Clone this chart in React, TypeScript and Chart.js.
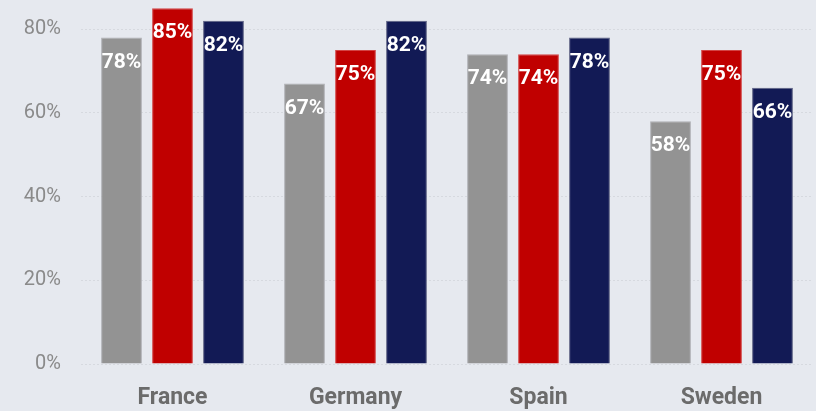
import React, { useEffect, useRef } from 'react';
import { Chart, registerables, Plugin } from 'chart.js';

Chart.register(...registerables);

const countries = ['France', 'Germany', 'Spain', 'Sweden'];
const seriesGrey = [78, 67, 74, 58];
const seriesRed = [85, 75, 74, 75];
const seriesNavy = [82, 82, 78, 66];
const yTicks = [0, 20, 40, 60, 80];

const FONT = 'Roboto, "DejaVu Sans", sans-serif';

// white value labels drawn just under the top of each bar
const valueLabels: Plugin<'bar'> = {
  id: 'valueLabels',
  afterDatasetsDraw(chart) {
    const ctx = chart.ctx;
    ctx.save();
    ctx.fillStyle = '#ffffff';
    ctx.font = `bold 21px ${FONT}`;
    ctx.textAlign = 'center';
    ctx.textBaseline = 'middle';
    chart.data.datasets.forEach((ds, i) => {
      const meta = chart.getDatasetMeta(i);
      meta.data.forEach((bar: any, j) => {
        ctx.fillText(`${ds.data[j]}%`, bar.x, bar.y + 25);
      });
    });
    ctx.restore();
  },
};

const App: React.FC = () => {
  const chartRef = useRef<HTMLCanvasElement | null>(null);
  const chartInstance = useRef<Chart | null>(null);

  useEffect(() => {
    if (!chartRef.current) return;
    if (chartInstance.current) chartInstance.current.destroy();

    const ctx = chartRef.current.getContext('2d');
    if (!ctx) return;

    chartInstance.current = new Chart(ctx, {
      type: 'bar',
      data: {
        labels: countries,
        datasets: [
          {
            label: 'Grey',
            data: seriesGrey,
            backgroundColor: '#939393',
            borderColor: '#aeafb4',
            borderWidth: 1,
          },
          {
            label: 'Red',
            data: seriesRed,
            backgroundColor: '#c00000',
            borderColor: '#d34545',
            borderWidth: 1,
          },
          {
            label: 'Navy',
            data: seriesNavy,
            backgroundColor: '#121a55',
            borderColor: '#5b6082',
            borderWidth: 1,
          },
        ],
      },
      options: {
        animation: false,
        responsive: false,
        datasets: {
          bar: {
            categoryPercentage: 0.836,
            barPercentage: 0.8,
          },
        },
        layout: {
          padding: { top: 4, right: 3, bottom: 0, left: 0 },
        },
        plugins: {
          legend: { display: false },
          tooltip: { enabled: false },
        },
        scales: {
          x: {
            grid: { display: false, drawTicks: false },
            border: { display: false },
            afterFit: (scale) => {
              scale.height = 47;
            },
            ticks: {
              padding: 20,
              color: '#6b6b6b',
              font: { family: FONT, size: 23, weight: 'bold' },
            },
          },
          y: {
            min: 0,
            max: 86,
            afterBuildTicks: (axis) => {
              axis.ticks = yTicks.map((v) => ({ value: v }));
            },
            afterFit: (scale) => {
              scale.width = 81;
              scale.paddingTop = 0;
              scale.paddingBottom = 0;
            },
            grid: {
              color: '#d6d9df',
              lineWidth: 1,
              drawTicks: false,
            },
            border: { display: false, dash: [2, 2] },
            ticks: {
              padding: 20,
              color: '#8a8a8a',
              font: { family: FONT, size: 20 },
              callback: (v) => `${v}%`,
            },
          },
        },
      },
      plugins: [valueLabels],
    });

    return () => {
      if (chartInstance.current) {
        chartInstance.current.destroy();
        chartInstance.current = null;
      }
    };
  }, []);

  return (
    <div
      style={{
        position: 'fixed',
        left: 0,
        top: 0,
        width: 816,
        height: 411,
        background: '#e6e9ef',
      }}
    >
      <canvas ref={chartRef} width={816} height={411} style={{ display: 'block' }}></canvas>
    </div>
  );
};

export default App;
